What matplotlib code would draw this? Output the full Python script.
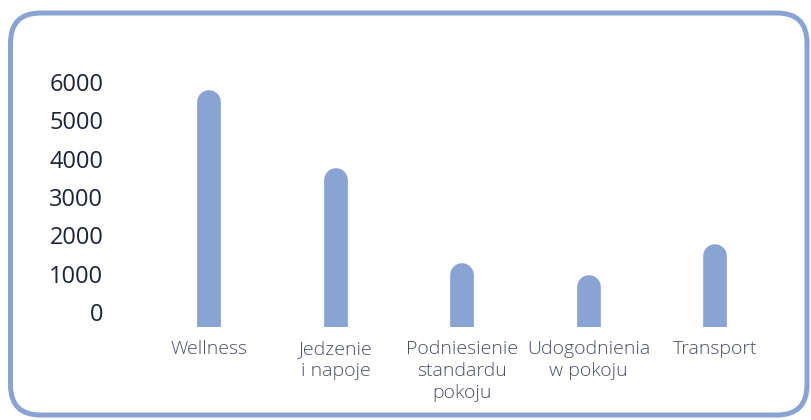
import matplotlib
matplotlib.use("Agg")
import matplotlib.pyplot as plt
from matplotlib.patches import FancyBboxPatch
from matplotlib.transforms import IdentityTransform

categories = ["Wellness", "Jedzenie\ni napoje", "Podniesienie\nstandardu\npokoju",
              "Udogodnienia\nw pokoju", "Transport"]
values = [5800, 3750, 1270, 970, 1770]
y_ticks = [0, 1000, 2000, 3000, 4000, 5000, 6000]

BAR_COLOR = "#89a3d2"
NUM_COLOR = "#1e2336"
CAT_COLOR = "#4a4f60"
W, H, DPI = 8.11, 4.20, 100

fig = plt.figure(figsize=(W, H), dpi=DPI)
fig.patch.set_facecolor("white")

ax_left_px, ax_right_px = 120, 790
ax_bot_px, ax_top_px = 327.3, 50
ax = fig.add_axes([ax_left_px / 811, (420 - ax_bot_px) / 420,
                   (ax_right_px - ax_left_px) / 811, (ax_bot_px - ax_top_px) / 420])

floor, ceil = -400, 6835
ax.set_ylim(floor, ceil)
ax.set_xlim(-0.7065, 4.594)

x = list(range(len(categories)))
bar_px = 23.7
px_per_y = (ax_bot_px - ax_top_px) / (ceil - floor)
r_data = (bar_px / 2) / px_per_y

bars = ax.vlines(x, floor, [v - r_data for v in values], colors=BAR_COLOR,
                 linewidth=bar_px * 72 / DPI)
bars.set_capstyle("round")

for s in ax.spines.values():
    s.set_visible(False)
ax.set_facecolor("none")

ax.set_yticks(y_ticks)
ax.set_yticklabels([str(t) for t in y_ticks], fontfamily="Open Sans",
                   fontsize=17, color=NUM_COLOR)
ax.tick_params(axis="y", length=0, pad=12)

ax.set_xticks(x)
ax.set_xticklabels(categories, fontfamily="Open Sans", fontsize=14,
                   color=CAT_COLOR, fontweight="light", linespacing=1.3)
ax.tick_params(axis="x", length=0, pad=9)

border = FancyBboxPatch((10.5, 5), 796.5, 402,
                        boxstyle="round,pad=0,rounding_size=30",
                        transform=IdentityTransform(), facecolor="none",
                        edgecolor=BAR_COLOR, linewidth=3.6)
fig.add_artist(border)

fig.savefig("out.png", dpi=DPI)
